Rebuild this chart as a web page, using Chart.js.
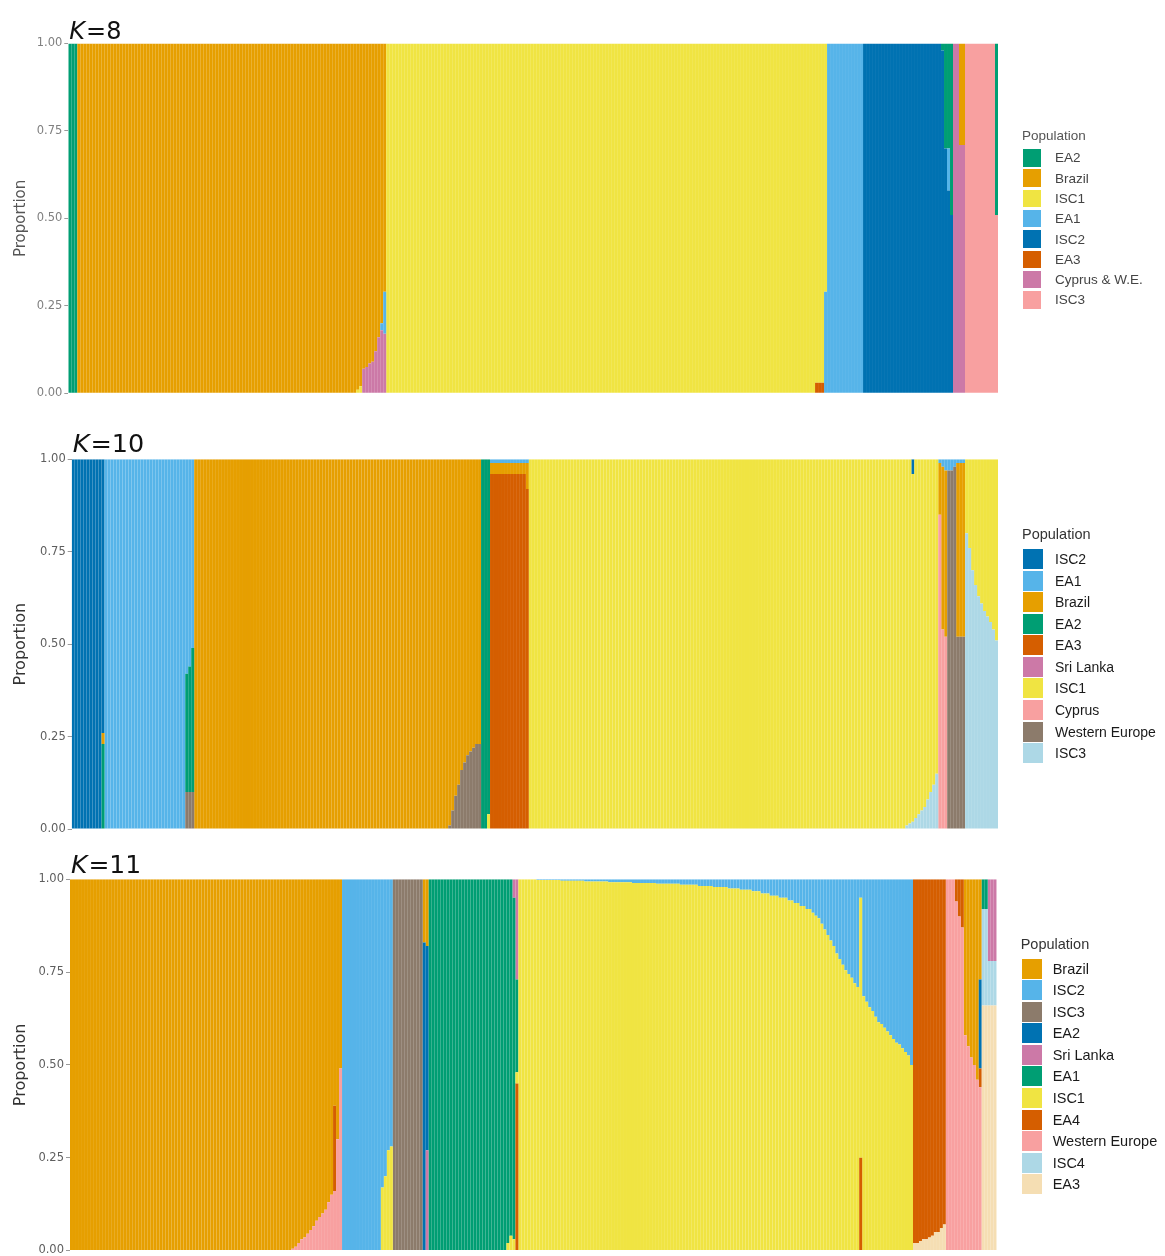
<!DOCTYPE html>
<html>
<head>
<meta charset="utf-8">
<title>Admixture K=8, 10, 11</title>
<script src="https://cdn.jsdelivr.net/npm/chart.js@4.4.1/dist/chart.umd.min.js"></script>
<style>
  html, body { margin: 0; padding: 0; background: #fff; overflow: hidden; }
  body { width: 1165px; height: 1256px; position: relative; font-family: "Liberation Sans", Arial, sans-serif; }
  .panel { position: absolute; left: 0; width: 1165px; }
  .panel canvas { position: absolute; left: 0; top: 0; }
  .legend { position: absolute; display: flex; flex-direction: column; justify-content: center; }
  .legend .ttl { white-space: nowrap; }
  .legend .row { display: flex; align-items: center; white-space: nowrap; }
  .legend .sw { flex: none; }
</style>
</head>
<body>
<div class="panel" style="top:0;height:410px">
  <canvas id="k8" width="1165" height="410"></canvas>
  <div class="legend" id="k8-legend"></div>
</div>
<div class="panel" style="top:418px;height:420px">
  <canvas id="k10" width="1165" height="420"></canvas>
  <div class="legend" id="k10-legend"></div>
</div>
<div class="panel" style="top:840px;height:422px">
  <canvas id="k11" width="1165" height="422"></canvas>
  <div class="legend" id="k11-legend"></div>
</div>
<script>
// Cluster names in legend order; the first one sits on top of each bar
const k8Clusters = ['EA2', 'Brazil', 'ISC1', 'EA1', 'ISC2', 'EA3', 'Cyprus & W.E.', 'ISC3'];
const k10Clusters = ['ISC2', 'EA1', 'Brazil', 'EA2', 'EA3', 'Sri Lanka', 'ISC1', 'Cyprus', 'Western Europe', 'ISC3'];
const k11Clusters = ['Brazil', 'ISC2', 'ISC3', 'EA2', 'Sri Lanka', 'EA1', 'ISC1', 'EA4', 'Western Europe', 'ISC4', 'EA3'];

const k8Colors = ['#009E73', '#E69F00', '#F0E442', '#56B4E9', '#0072B2', '#D55E00', '#CC79A7', '#F8A0A0'];
const k10Colors = ['#0072B2', '#56B4E9', '#E69F00', '#009E73', '#D55E00', '#CC79A7', '#F0E442', '#F8A0A0', '#8C7B6B', '#ADD8E6'];
const k11Colors = ['#E69F00', '#56B4E9', '#8C7B6B', '#0072B2', '#CC79A7', '#009E73', '#F0E442', '#D55E00', '#F8A0A0', '#ADD8E6', '#F5DEB3'];

// Ancestry proportions, one entry per run of identical individuals:
// [number of individuals, {cluster: proportion}]
const k8Rows = [
  [3, {EA2: 1}],
  [93, {Brazil: 1}],
  [1, {Brazil: 0.99, ISC1: 0.01}],
  [1, {Brazil: 0.98, ISC1: 0.02}],
  [1, {Brazil: 0.93, 'Cyprus & W.E.': 0.07}],
  [1, {Brazil: 0.925, 'Cyprus & W.E.': 0.075}],
  [1, {Brazil: 0.915, 'Cyprus & W.E.': 0.085}],
  [1, {Brazil: 0.91, 'Cyprus & W.E.': 0.09}],
  [1, {Brazil: 0.88, 'Cyprus & W.E.': 0.12}],
  [1, {Brazil: 0.84, 'Cyprus & W.E.': 0.16}],
  [1, {Brazil: 0.80, EA1: 0.02, 'Cyprus & W.E.': 0.18}],
  [1, {Brazil: 0.71, EA1: 0.12, 'Cyprus & W.E.': 0.17}],
  [143, {ISC1: 1}],
  [3, {ISC1: 0.97, EA3: 0.03}],
  [1, {ISC1: 0.71, EA1: 0.29}],
  [12, {EA1: 1}],
  [26, {ISC2: 1}],
  [1, {EA2: 0.02, ISC2: 0.98}],
  [1, {EA2: 0.30, ISC2: 0.70}],
  [1, {EA2: 0.30, EA1: 0.12, ISC2: 0.58}],
  [1, {EA2: 0.49, ISC2: 0.51}],
  [2, {'Cyprus & W.E.': 1}],
  [2, {Brazil: 0.29, 'Cyprus & W.E.': 0.71}],
  [10, {ISC3: 1}],
  [1, {EA2: 0.49, ISC3: 0.51}]
];

const k10Rows = [
  [10, {ISC2: 1}],
  [1, {ISC2: 0.74, Brazil: 0.03, EA2: 0.23}],
  [27, {EA1: 1}],
  [1, {EA1: 0.58, EA2: 0.32, 'Western Europe': 0.10}],
  [1, {EA1: 0.56, EA2: 0.34, 'Western Europe': 0.10}],
  [1, {EA1: 0.51, EA2: 0.39, 'Western Europe': 0.10}],
  [85, {Brazil: 1}],
  [1, {Brazil: 0.99, 'Western Europe': 0.01}],
  [1, {Brazil: 0.95, 'Western Europe': 0.05}],
  [1, {Brazil: 0.91, 'Western Europe': 0.09}],
  [1, {Brazil: 0.88, 'Western Europe': 0.12}],
  [1, {Brazil: 0.84, 'Western Europe': 0.16}],
  [1, {Brazil: 0.82, 'Western Europe': 0.18}],
  [1, {Brazil: 0.80, 'Western Europe': 0.20}],
  [1, {Brazil: 0.79, 'Western Europe': 0.21}],
  [1, {Brazil: 0.78, 'Western Europe': 0.22}],
  [2, {Brazil: 0.77, 'Western Europe': 0.23}],
  [2, {EA2: 1}],
  [1, {EA2: 0.96, ISC1: 0.04}],
  [12, {EA1: 0.01, Brazil: 0.03, EA3: 0.96}],
  [1, {EA1: 0.01, Brazil: 0.07, EA3: 0.92}],
  [126, {ISC1: 1}],
  [1, {ISC1: 0.99, ISC3: 0.01}],
  [1, {ISC1: 0.985, ISC3: 0.015}],
  [1, {ISC2: 0.04, ISC1: 0.94, ISC3: 0.02}],
  [1, {ISC1: 0.97, ISC3: 0.03}],
  [1, {ISC1: 0.96, ISC3: 0.04}],
  [1, {ISC1: 0.95, ISC3: 0.05}],
  [1, {ISC1: 0.94, ISC3: 0.06}],
  [1, {ISC1: 0.92, ISC3: 0.08}],
  [1, {ISC1: 0.90, ISC3: 0.10}],
  [1, {ISC1: 0.88, ISC3: 0.12}],
  [1, {ISC1: 0.85, ISC3: 0.15}],
  [1, {EA1: 0.01, Brazil: 0.14, Cyprus: 0.85}],
  [1, {EA1: 0.02, Brazil: 0.44, Cyprus: 0.54}],
  [1, {EA1: 0.03, Brazil: 0.45, Cyprus: 0.52}],
  [2, {EA1: 0.03, 'Western Europe': 0.97}],
  [1, {EA1: 0.02, 'Western Europe': 0.98}],
  [3, {EA1: 0.01, Brazil: 0.47, 'Western Europe': 0.52}],
  [1, {ISC1: 0.20, ISC3: 0.80}],
  [1, {ISC1: 0.24, ISC3: 0.76}],
  [1, {ISC1: 0.30, ISC3: 0.70}],
  [1, {ISC1: 0.34, ISC3: 0.66}],
  [1, {ISC1: 0.37, ISC3: 0.63}],
  [1, {ISC1: 0.39, ISC3: 0.61}],
  [1, {ISC1: 0.41, ISC3: 0.59}],
  [1, {ISC1: 0.425, ISC3: 0.575}],
  [1, {ISC1: 0.44, ISC3: 0.56}],
  [1, {ISC1: 0.46, ISC3: 0.54}],
  [1, {ISC1: 0.49, ISC3: 0.51}]
];

const k11Rows = [
  [74, {Brazil: 1}],
  [1, {Brazil: 0.995, 'Western Europe': 0.005}],
  [1, {Brazil: 0.99, 'Western Europe': 0.01}],
  [1, {Brazil: 0.98, 'Western Europe': 0.02}],
  [1, {Brazil: 0.97, 'Western Europe': 0.03}],
  [1, {Brazil: 0.965, 'Western Europe': 0.035}],
  [1, {Brazil: 0.955, 'Western Europe': 0.045}],
  [1, {Brazil: 0.945, 'Western Europe': 0.055}],
  [1, {Brazil: 0.935, 'Western Europe': 0.065}],
  [1, {Brazil: 0.92, 'Western Europe': 0.08}],
  [1, {Brazil: 0.91, 'Western Europe': 0.09}],
  [1, {Brazil: 0.90, 'Western Europe': 0.10}],
  [1, {Brazil: 0.89, 'Western Europe': 0.11}],
  [1, {Brazil: 0.87, 'Western Europe': 0.13}],
  [1, {Brazil: 0.85, 'Western Europe': 0.15}],
  [1, {Brazil: 0.61, EA4: 0.23, 'Western Europe': 0.16}],
  [1, {Brazil: 0.70, 'Western Europe': 0.30}],
  [1, {Brazil: 0.51, 'Western Europe': 0.49}],
  [13, {ISC2: 1}],
  [1, {ISC2: 0.83, ISC1: 0.17}],
  [1, {ISC2: 0.80, ISC1: 0.20}],
  [1, {ISC2: 0.73, ISC1: 0.27}],
  [1, {ISC2: 0.72, ISC1: 0.28}],
  [10, {ISC3: 1}],
  [1, {Brazil: 0.17, EA2: 0.83}],
  [1, {Brazil: 0.18, EA2: 0.55, 'Sri Lanka': 0.27}],
  [26, {EA1: 1}],
  [1, {EA1: 0.98, ISC1: 0.02}],
  [1, {EA1: 0.96, ISC1: 0.04}],
  [1, {'Sri Lanka': 0.05, EA1: 0.92, ISC1: 0.03}],
  [1, {'Sri Lanka': 0.27, EA1: 0.25, ISC1: 0.03, EA4: 0.45}],
  [6, {ISC1: 1}],
  [8, {ISC2: 0.002, ISC1: 0.998}],
  [8, {ISC2: 0.004, ISC1: 0.996}],
  [8, {ISC2: 0.006, ISC1: 0.994}],
  [8, {ISC2: 0.008, ISC1: 0.992}],
  [8, {ISC2: 0.010, ISC1: 0.990}],
  [8, {ISC2: 0.012, ISC1: 0.988}],
  [6, {ISC2: 0.015, ISC1: 0.985}],
  [5, {ISC2: 0.018, ISC1: 0.982}],
  [5, {ISC2: 0.021, ISC1: 0.979}],
  [4, {ISC2: 0.025, ISC1: 0.975}],
  [4, {ISC2: 0.028, ISC1: 0.972}],
  [3, {ISC2: 0.032, ISC1: 0.968}],
  [3, {ISC2: 0.038, ISC1: 0.962}],
  [3, {ISC2: 0.044, ISC1: 0.956}],
  [3, {ISC2: 0.050, ISC1: 0.950}],
  [2, {ISC2: 0.057, ISC1: 0.943}],
  [2, {ISC2: 0.064, ISC1: 0.936}],
  [2, {ISC2: 0.072, ISC1: 0.928}],
  [2, {ISC2: 0.080, ISC1: 0.920}],
  [1, {ISC2: 0.090, ISC1: 0.910}],
  [1, {ISC2: 0.098, ISC1: 0.902}],
  [1, {ISC2: 0.105, ISC1: 0.895}],
  [1, {ISC2: 0.120, ISC1: 0.880}],
  [1, {ISC2: 0.135, ISC1: 0.865}],
  [1, {ISC2: 0.150, ISC1: 0.850}],
  [1, {ISC2: 0.165, ISC1: 0.835}],
  [1, {ISC2: 0.180, ISC1: 0.820}],
  [1, {ISC2: 0.200, ISC1: 0.800}],
  [1, {ISC2: 0.215, ISC1: 0.785}],
  [1, {ISC2: 0.230, ISC1: 0.770}],
  [1, {ISC2: 0.245, ISC1: 0.755}],
  [1, {ISC2: 0.255, ISC1: 0.745}],
  [1, {ISC2: 0.265, ISC1: 0.735}],
  [1, {ISC2: 0.280, ISC1: 0.720}],
  [1, {ISC2: 0.290, ISC1: 0.710}],
  [1, {ISC2: 0.050, ISC1: 0.700, EA4: 0.250}],
  [1, {ISC2: 0.315, ISC1: 0.685}],
  [1, {ISC2: 0.330, ISC1: 0.670}],
  [1, {ISC2: 0.345, ISC1: 0.655}],
  [1, {ISC2: 0.355, ISC1: 0.645}],
  [1, {ISC2: 0.370, ISC1: 0.630}],
  [1, {ISC2: 0.385, ISC1: 0.615}],
  [1, {ISC2: 0.390, ISC1: 0.610}],
  [1, {ISC2: 0.400, ISC1: 0.600}],
  [1, {ISC2: 0.410, ISC1: 0.590}],
  [1, {ISC2: 0.420, ISC1: 0.580}],
  [1, {ISC2: 0.430, ISC1: 0.570}],
  [1, {ISC2: 0.440, ISC1: 0.560}],
  [1, {ISC2: 0.445, ISC1: 0.555}],
  [1, {ISC2: 0.455, ISC1: 0.545}],
  [1, {ISC2: 0.465, ISC1: 0.535}],
  [1, {ISC2: 0.475, ISC1: 0.525}],
  [1, {ISC2: 0.500, ISC1: 0.500}],
  [2, {EA4: 0.98, EA3: 0.02}],
  [1, {EA4: 0.975, EA3: 0.025}],
  [2, {EA4: 0.97, EA3: 0.03}],
  [1, {EA4: 0.965, EA3: 0.035}],
  [1, {EA4: 0.96, EA3: 0.04}],
  [2, {EA4: 0.95, EA3: 0.05}],
  [1, {EA4: 0.94, EA3: 0.06}],
  [1, {EA4: 0.93, EA3: 0.07}],
  [3, {'Western Europe': 1}],
  [1, {EA4: 0.06, 'Western Europe': 0.94}],
  [1, {EA4: 0.10, 'Western Europe': 0.90}],
  [1, {EA4: 0.13, 'Western Europe': 0.87}],
  [1, {Brazil: 0.42, 'Western Europe': 0.58}],
  [1, {Brazil: 0.45, 'Western Europe': 0.55}],
  [1, {Brazil: 0.48, 'Western Europe': 0.52}],
  [1, {Brazil: 0.50, 'Western Europe': 0.50}],
  [1, {Brazil: 0.54, 'Western Europe': 0.46}],
  [1, {Brazil: 0.27, EA2: 0.24, EA4: 0.05, 'Western Europe': 0.44}],
  [2, {EA1: 0.08, ISC4: 0.26, EA3: 0.66}],
  [3, {'Sri Lanka': 0.22, ISC4: 0.12, EA3: 0.66}]
];

// run-length rows -> one array of proportions per cluster
function expandRows(rows, clusters) {
  const series = clusters.map(() => []);
  rows.forEach(([count, shares]) => {
    for (let n = 0; n < count; n++) {
      clusters.forEach((name, c) => series[c].push(shares[name] || 0));
    }
  });
  return series;
}

// "K=8" style heading, italic K, drawn above the left edge of the plot
const panelTitle = {
  id: 'panelTitle',
  afterDraw(chart, args, opts) {
    const {ctx, chartArea} = chart;
    const x = chartArea.left + 1;
    const y = chartArea.top - opts.gap;
    ctx.save();
    ctx.fillStyle = '#111';
    ctx.textBaseline = 'alphabetic';
    ctx.font = `italic ${opts.size}px "DejaVu Sans"`;
    ctx.fillText('K', x, y);
    const w = ctx.measureText('K').width;
    ctx.font = `${opts.size}px "DejaVu Sans"`;
    ctx.fillText('=' + opts.k, x + w + 1, y);
    ctx.restore();
  }
};

// legend built as html next to the plot, centred on the plot area
const htmlLegend = {
  id: 'htmlLegend',
  afterUpdate(chart, args, opts) {
    const box = document.getElementById(opts.containerID);
    const {top, bottom} = chart.chartArea;
    box.innerHTML = '';
    box.style.left = opts.left + 'px';
    box.style.top = top + 'px';
    box.style.height = (bottom - top) + 'px';
    box.style.color = opts.color;

    const head = document.createElement('div');
    head.className = 'ttl';
    head.textContent = 'Population';
    head.style.fontSize = opts.titleSize + 'px';
    head.style.lineHeight = '18px';
    head.style.color = opts.titleColor;
    head.style.marginBottom = opts.titleGap + 'px';
    head.style.marginLeft = '-1px';
    box.appendChild(head);

    const items = chart.options.plugins.legend.labels.generateLabels(chart).reverse();
    items.forEach(item => {
      const row = document.createElement('div');
      row.className = 'row';
      row.style.height = opts.rowHeight + 'px';
      row.style.fontSize = opts.fontSize + 'px';
      const sw = document.createElement('span');
      sw.className = 'sw';
      sw.style.width = opts.boxWidth + 'px';
      sw.style.height = opts.boxHeight + 'px';
      sw.style.background = item.fillStyle;
      sw.style.marginRight = opts.textGap + 'px';
      const label = document.createElement('span');
      label.textContent = item.text;
      row.appendChild(sw);
      row.appendChild(label);
      box.appendChild(row);
    });
  }
};

function drawPanel(cfg) {
  const series = expandRows(cfg.rows, cfg.clusters);
  const labels = series[0].map((_, i) => i + 1);
  // Chart.js stacks the first dataset at the bottom, so list the clusters backwards
  const datasets = cfg.clusters.map((name, c) => ({
    label: name,
    data: series[c],
    backgroundColor: cfg.colors[c],
    borderWidth: 0,
    inflateAmount: 0,
    barPercentage: 1,
    categoryPercentage: 1
  })).reverse();

  new Chart(document.getElementById(cfg.canvas), {
    type: 'bar',
    data: {labels, datasets},
    options: {
      responsive: false,
      animation: false,
      events: [],
      layout: {padding: cfg.padding},
      scales: {
        x: {stacked: true, display: false},
        y: {
          stacked: true,
          min: 0,
          max: 1,
          afterFit: scale => { scale.width = cfg.axisWidth; },
          border: {display: false},
          grid: {drawOnChartArea: false, tickLength: 4, tickColor: '#9a9a9a'},
          ticks: {
            stepSize: 0.25,
            padding: 2,
            color: cfg.tickColor,
            font: {family: '"DejaVu Sans"', size: 11.5},
            callback: value => value.toFixed(2)
          },
          title: {
            display: true,
            text: 'Proportion',
            color: cfg.axisTitleColor,
            font: {family: '"DejaVu Sans"', size: cfg.axisTitleSize},
            padding: {top: cfg.axisTitlePad, bottom: 0}
          }
        }
      },
      plugins: {
        legend: {display: false},
        tooltip: {enabled: false},
        panelTitle: cfg.title,
        htmlLegend: cfg.legend
      }
    },
    plugins: [panelTitle, htmlLegend]
  });
}

drawPanel({
  canvas: 'k8',
  clusters: k8Clusters,
  colors: k8Colors,
  rows: k8Rows,
  axisWidth: 68.3,
  padding: {top: 43.5, bottom: 16.7, left: 0, right: 167},
  tickColor: '#808080',
  axisTitleColor: '#555',
  axisTitleSize: 15,
  axisTitlePad: 12,
  title: {k: 8, size: 24, gap: 5},
  legend: {containerID: 'k8-legend', left: 1023, color: '#444', titleColor: '#555', titleSize: 13.5,
           titleGap: 3, fontSize: 13.5, rowHeight: 20.3, boxWidth: 18, boxHeight: 17.5, textGap: 14}
});

drawPanel({
  canvas: 'k10',
  clusters: k10Clusters,
  colors: k10Colors,
  rows: k10Rows,
  axisWidth: 71.7,
  padding: {top: 41.3, bottom: 8, left: 0, right: 167},
  tickColor: '#5e5e5e',
  axisTitleColor: '#333',
  axisTitleSize: 16,
  axisTitlePad: 11,
  title: {k: 10, size: 25.5, gap: 7.5},
  legend: {containerID: 'k10-legend', left: 1023, color: '#1a1a1a', titleColor: '#333', titleSize: 14.5,
           titleGap: 5.8, fontSize: 14, rowHeight: 21.56, boxWidth: 20, boxHeight: 20, textGap: 12}
});

drawPanel({
  canvas: 'k11',
  clusters: k11Clusters,
  colors: k11Colors,
  rows: k11Rows,
  axisWidth: 70,
  padding: {top: 39.3, bottom: 11.5, left: 0, right: 168.3},
  tickColor: '#5e5e5e',
  axisTitleColor: '#333',
  axisTitleSize: 16,
  axisTitlePad: 11,
  title: {k: 11, size: 25, gap: 6.3},
  legend: {containerID: 'k11-legend', left: 1021.7, color: '#1a1a1a', titleColor: '#333', titleSize: 14.5,
           titleGap: 5.2, fontSize: 14.5, rowHeight: 21.56, boxWidth: 20, boxHeight: 20, textGap: 11}
});
</script>
</body>
</html>
